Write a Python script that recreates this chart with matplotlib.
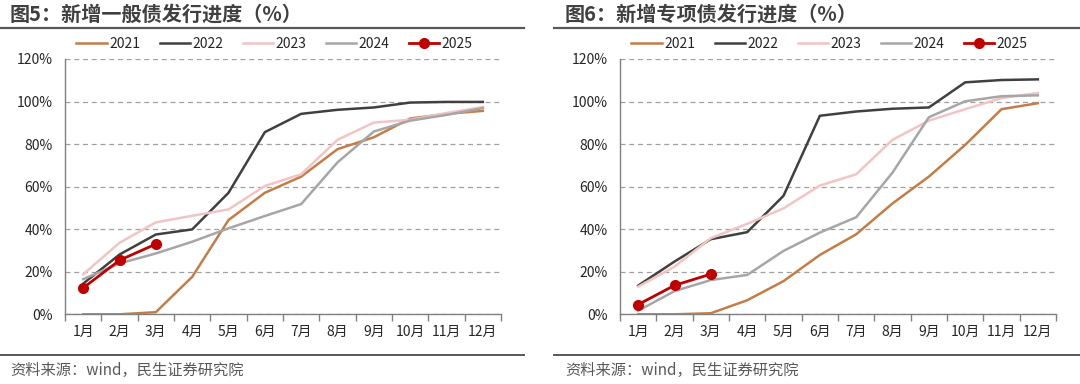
import matplotlib
matplotlib.use("Agg")
import matplotlib.pyplot as plt
from matplotlib.lines import Line2D

plt.rcParams['font.family'] = ['Noto Sans CJK SC', 'DejaVu Sans']

months = ['1月', '2月', '3月', '4月', '5月', '6月', '7月', '8月', '9月', '10月', '11月', '12月']
years = ['2021', '2022', '2023', '2024', '2025']

# 图5 新增一般债发行进度 (%)
general_2021 = [0, 0, 1.0, 17.6, 44.3, 57.1, 64.7, 77.6, 83.2, 92.0, 94.2, 95.6]
general_2022 = [14.4, 28.1, 37.5, 39.9, 57.1, 85.6, 94.2, 96.1, 97.2, 99.5, 99.8, 99.8]
general_2023 = [18.8, 33.6, 43.2, 46.3, 49.3, 60.3, 65.8, 82.0, 90.1, 91.4, 94.6, 97.4]
general_2024 = [16.5, 23.9, 28.6, 34.1, 40.4, 46.2, 51.8, 71.4, 85.9, 91.0, 93.7, 96.9]
general_2025 = [12.4, 25.4, 33.0]

# 图6 新增专项债发行进度 (%)
special_2021 = [0, 0, 0.5, 6.6, 15.6, 27.9, 37.6, 52.1, 64.7, 79.6, 96.4, 99.2]
special_2022 = [13.5, 24.8, 35.3, 38.6, 55.7, 93.3, 95.3, 96.6, 97.2, 109.0, 110.1, 110.4]
special_2023 = [13.0, 22.4, 35.8, 42.5, 49.8, 60.5, 65.8, 82.0, 91.0, 96.4, 101.6, 104.0]
special_2024 = [1.7, 10.9, 16.1, 18.5, 29.8, 38.4, 45.6, 66.6, 92.6, 100.1, 102.5, 102.9]
special_2025 = [4.6, 13.6, 18.9]

titles = ['图5：新增一般债发行进度（%）', '图6：新增专项债发行进度（%）']
source = '资料来源：wind，民生证券研究院'
yticks = [0, 20, 40, 60, 80, 100, 120]

colors = ['#C47D47', '#404040', '#F2C4C4', '#A6A6A6', '#C00000']

fig = plt.figure(figsize=(10.8, 3.84), dpi=100)

panels = [
    (0.0602, [general_2021, general_2022, general_2023, general_2024, general_2025]),
    (0.5741, [special_2021, special_2022, special_2023, special_2024, special_2025]),
]

x_all = list(range(len(months)))
for idx, (left, series) in enumerate(panels):
    ax = fig.add_axes([left, 0.1815, 0.4037, 0.665])
    for i, (yr, vals) in enumerate(zip(years, series)):
        xs = x_all[:len(vals)]
        if yr == '2025':
            ax.plot(xs, vals, color=colors[i], lw=2.0, marker='o', ms=7, label=yr, zorder=5)
        else:
            ax.plot(xs, vals, color=colors[i], lw=1.8, label=yr, zorder=3)
    ax.set_xlim(-0.5, len(months) - 0.5)
    ax.set_ylim(0, 120)
    ax.set_yticks(yticks)
    ax.set_yticklabels([f'{v}%' for v in yticks], fontsize=10, color='#262626')
    ax.yaxis.grid(True, linestyle=(0, (4, 3)), color='#A0A0A0', lw=0.9)
    ax.set_axisbelow(True)
    ax.tick_params(axis='y', length=0, pad=9)
    ax.set_xticks([i - 0.5 for i in range(len(months) + 1)])
    ax.set_xticklabels([])
    ax.set_xticks(x_all, minor=True)
    ax.set_xticklabels(months, minor=True, fontsize=10, color='#262626')
    ax.tick_params(axis='x', which='major', length=5, color='#808080', width=1)
    ax.tick_params(axis='x', which='minor', length=0, pad=8)
    for s in ['top', 'right']:
        ax.spines[s].set_visible(False)
    for s in ['left', 'bottom']:
        ax.spines[s].set_color('#808080')
        ax.spines[s].set_linewidth(1.0)
    leg = ax.legend(loc='center', bbox_to_anchor=(0.48, 1.06), ncol=5, frameon=False,
                    fontsize=10, handlelength=2.2, handletextpad=0.15, columnspacing=1.4)
    for t in leg.get_texts():
        t.set_color('#262626')

    # header/footer
    x0 = 0.0 if idx == 0 else 554 / 1080
    x1 = 524 / 1080 if idx == 0 else 1.0
    fig.add_artist(Line2D([x0, x1], [1 - 27.5 / 384, 1 - 27.5 / 384], color='#595959', lw=1.6))
    fig.add_artist(Line2D([x0, x1], [1 - 354.5 / 384, 1 - 354.5 / 384], color='#595959', lw=1.4))
    tx = 10 / 1080 if idx == 0 else 565 / 1080
    fig.text(tx, 1 - 14.5 / 384, titles[idx], fontsize=14.5, fontweight='bold',
             color='#404040', va='center', ha='left')
    fig.text(tx, 1 - 370.5 / 384, source, fontsize=11, color='#595959', va='center', ha='left')

fig.savefig('out.png', dpi=100)
